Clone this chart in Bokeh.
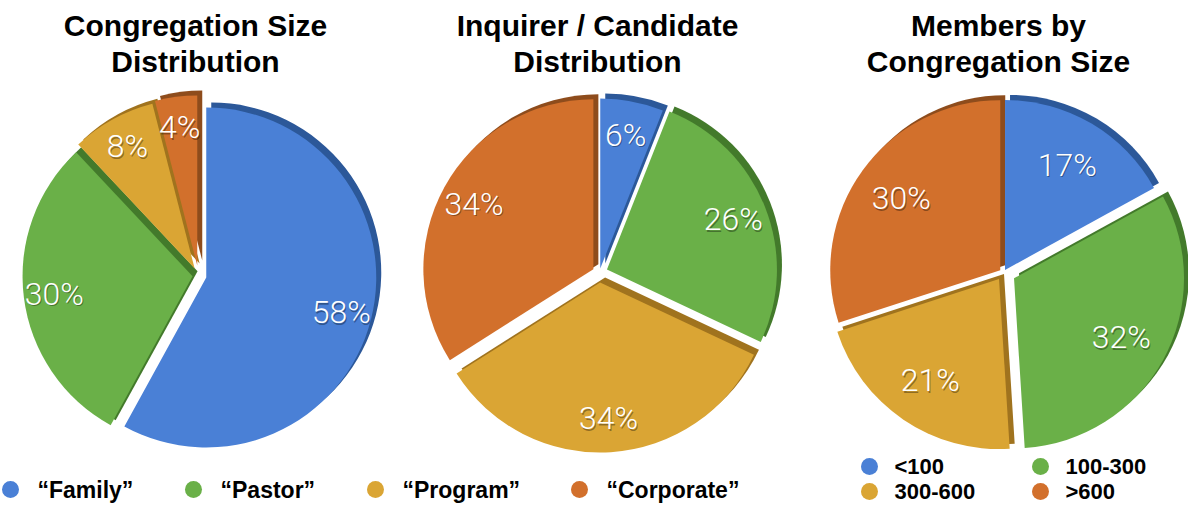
import numpy as np
from bokeh.plotting import figure
from bokeh.models import Range1d
from bokeh.core.properties import value
from bokeh.embed import file_html
from bokeh.resources import INLINE

# ---------------- data ----------------
title_congregation = ["Congregation Size", "Distribution"]
title_inquirer = ["Inquirer / Candidate", "Distribution"]
title_members = ["Members by", "Congregation Size"]

size_categories = ["\u201cFamily\u201d", "\u201cPastor\u201d", "\u201cProgram\u201d", "\u201cCorporate\u201d"]
member_categories = ["<100", "100-300", "300-600", ">600"]

congregation_share = [58, 30, 8, 4]
inquirer_share = [6, 26, 34, 34]
members_share = [17, 32, 21, 30]

# ---------------- style / layout ----------------
W, H = 1188, 506
colors = ["#4a80d6", "#6ab048", "#daa534", "#d2702c"]
darks = ["#2c5899", "#437a2b", "#a0731e", "#8e4c1c"]
R = 170
SHADOW = (5, 5)


def X(img_x):
    return img_x - 8


def Y(img_y):
    return 514 - img_y


pies = [
    dict(values=congregation_share, title=title_congregation, center=(206, 283),
         explode=[8, 6, 8, 10], label_frac=0.82, title_x=203),
    dict(values=inquirer_share, title=title_inquirer, center=(607, 280),
         explode=[4, 8, 10, 7], label_frac=0.80, title_x=605),
    dict(values=members_share, title=title_members, center=(1011, 280),
         explode=[3, 12, 8, 4], label_frac=0.72, title_x=1006),
]

p = figure(width=W, height=H, x_range=Range1d(0, W), y_range=Range1d(0, H),
           output_backend="svg", toolbar_location=None, min_border=0,
           x_axis_type=None, y_axis_type=None)
p.grid.visible = False
p.outline_line_color = None
p.background_fill_color = "white"
p.border_fill_color = "white"

for pie in pies:
    vals = np.array(pie["values"], dtype=float)
    frac = vals / vals.sum()
    ends = np.cumsum(frac) * 360.0
    starts = ends - frac * 360.0
    mids = (starts + ends) / 2.0
    off = np.array(pie["explode"], dtype=float)
    cx, cy = X(pie["center"][0]), Y(pie["center"][1])
    xs = cx + off * np.sin(np.radians(mids))
    ys = cy + off * np.cos(np.radians(mids))
    sa = np.radians(90.0 - ends)
    ea = np.radians(90.0 - starts)

    # side faces (3D depth)
    p.wedge(x=xs + SHADOW[0], y=ys + SHADOW[1], radius=R, start_angle=sa, end_angle=ea,
            fill_color=darks, line_color=None)
    # front faces
    p.wedge(x=xs, y=ys, radius=R, start_angle=sa, end_angle=ea,
            fill_color=colors, line_color=None)

    # labels
    lr = R * pie["label_frac"]
    lx = xs + lr * np.sin(np.radians(mids))
    ly = ys + lr * np.cos(np.radians(mids))
    labels = [f"{int(v)}%" for v in pie["values"]]
    p.text(x=lx + 1, y=ly - 1.5, text=labels, text_font=value("Roboto Light"),
           text_font_size="32px", text_align="center", text_baseline="middle",
           text_color="black", text_alpha=0.35)
    p.text(x=lx, y=ly, text=labels, text_font=value("Roboto Light"),
           text_font_size="32px", text_align="center", text_baseline="middle",
           text_color="white")

    # title
    tx = X(pie["title_x"])
    p.text(x=[tx, tx], y=[Y(33), Y(69)], text=pie["title"],
           text_font=value("Liberation Sans"), text_font_style="bold",
           text_font_size="30px", text_align="center", text_baseline="alphabetic",
           text_color="black")

# legend 1 (sizes)
leg1_x = [X(18), X(201), X(383), X(587)]
leg1_y = [Y(497)] * 4
p.scatter(x=leg1_x, y=leg1_y, size=17, fill_color=colors, line_color=None)
p.text(x=[v + 27 for v in leg1_x], y=leg1_y, text=size_categories,
       text_font=value("Liberation Sans"), text_font_style="bold",
       text_font_size="23px", text_align="left", text_baseline="middle",
       text_color="black")

# legend 2 (members)
leg2_x = [X(877), X(1048), X(877), X(1048)]
leg2_y = [Y(474), Y(474), Y(499), Y(499)]
p.scatter(x=leg2_x, y=leg2_y, size=17, fill_color=colors, line_color=None)
p.text(x=[v + 25 for v in leg2_x], y=leg2_y, text=member_categories,
       text_font=value("Liberation Sans"), text_font_style="bold",
       text_font_size="22px", text_align="left", text_baseline="middle",
       text_color="black")

open("out.html", "w").write(file_html(p, INLINE))
